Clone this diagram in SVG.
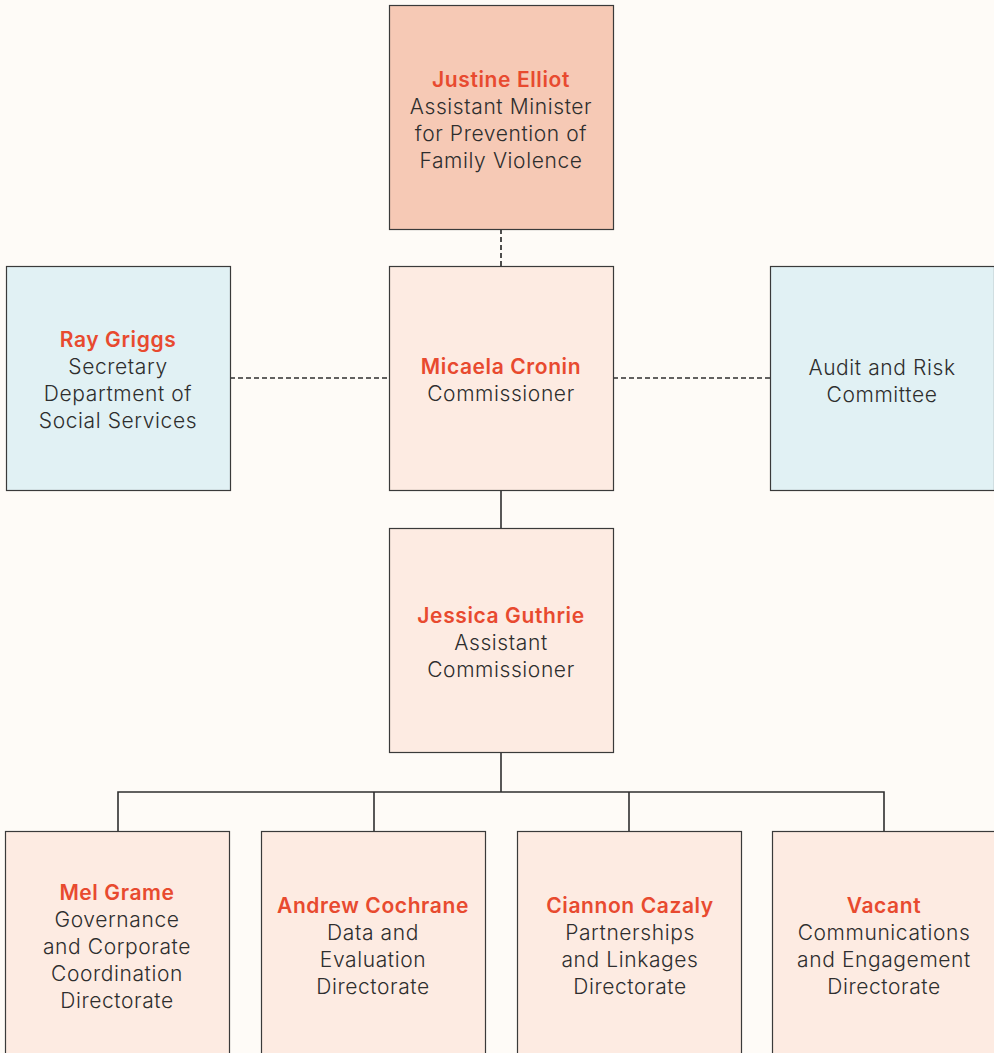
<svg xmlns="http://www.w3.org/2000/svg" width="994" height="1053" viewBox="0 0 994 1053">
<style>
.bg{fill:#FEFBF7}
.box{stroke:#3a3a3a;stroke-width:1.2}
.top{fill:#F6C9B5}
.peach{fill:#FDEBE2}
.blue{fill:#E1F1F4}
text{font-family:Inter,"Liberation Sans",sans-serif;font-size:21px;font-weight:300;text-anchor:middle;fill:#2e2e2e;letter-spacing:0.6px}
.name{font-weight:600;fill:#E84A2F}
.solid{stroke:#2f2f2f;stroke-width:1.6;fill:none}
.dash{stroke:#2f2f2f;stroke-width:1.7;stroke-dasharray:5 3;fill:none}
</style>
<rect class="bg" x="0" y="0" width="994" height="1053"/>
<g id="connectors">
<line class="dash" x1="501" y1="229" x2="501" y2="266"/>
<line class="dash" x1="230" y1="378" x2="389" y2="378"/>
<line class="dash" x1="613" y1="378" x2="770" y2="378"/>
<line class="solid" x1="501" y1="490" x2="501" y2="528"/>
<polyline class="solid" points="501,752 501,792"/>
<polyline class="solid" points="118,831 118,792 884,792 884,831"/>
<line class="solid" x1="374" y1="792" x2="374" y2="831"/>
<line class="solid" x1="629" y1="792" x2="629" y2="831"/>
</g>
<g id="minister">
<rect class="box top" x="389.5" y="5.5" width="224" height="224"/>
<text x="501" y="87"><tspan class="name">Justine Elliot</tspan><tspan x="501" dy="27">Assistant Minister</tspan><tspan x="501" dy="27">for Prevention of</tspan><tspan x="501" dy="27">Family Violence</tspan></text>
</g>
<g id="secretary">
<rect class="box blue" x="6.5" y="266.5" width="224" height="224"/>
<text x="118" y="347"><tspan class="name">Ray Griggs</tspan><tspan x="118" dy="27">Secretary</tspan><tspan x="118" dy="27">Department of</tspan><tspan x="118" dy="27">Social Services</tspan></text>
</g>
<g id="commissioner">
<rect class="box peach" x="389.5" y="266.5" width="224" height="224"/>
<text x="501" y="374"><tspan class="name">Micaela Cronin</tspan><tspan x="501" dy="27">Commissioner</tspan></text>
</g>
<g id="audit">
<rect class="box blue" x="770.5" y="266.5" width="224" height="224"/>
<text x="882" y="375"><tspan>Audit and Risk</tspan><tspan x="882" dy="27">Committee</tspan></text>
</g>
<g id="assistant-commissioner">
<rect class="box peach" x="389.5" y="528.5" width="224" height="224"/>
<text x="501" y="623"><tspan class="name">Jessica Guthrie</tspan><tspan x="501" dy="27">Assistant</tspan><tspan x="501" dy="27">Commissioner</tspan></text>
</g>
<g id="governance">
<rect class="box peach" x="5.5" y="831.5" width="224" height="240"/>
<text x="117" y="900"><tspan class="name">Mel Grame</tspan><tspan x="117" dy="27">Governance</tspan><tspan x="117" dy="27">and Corporate</tspan><tspan x="117" dy="27">Coordination</tspan><tspan x="117" dy="27">Directorate</tspan></text>
</g>
<g id="data">
<rect class="box peach" x="261.5" y="831.5" width="224" height="240"/>
<text x="373" y="913"><tspan class="name">Andrew Cochrane</tspan><tspan x="373" dy="27">Data and</tspan><tspan x="373" dy="27">Evaluation</tspan><tspan x="373" dy="27">Directorate</tspan></text>
</g>
<g id="partnerships">
<rect class="box peach" x="517.5" y="831.5" width="224" height="240"/>
<text x="630" y="913"><tspan class="name">Ciannon Cazaly</tspan><tspan x="630" dy="27">Partnerships</tspan><tspan x="630" dy="27">and Linkages</tspan><tspan x="630" dy="27">Directorate</tspan></text>
</g>
<g id="communications">
<rect class="box peach" x="772.5" y="831.5" width="224" height="240"/>
<text x="884" y="913"><tspan class="name">Vacant</tspan><tspan x="884" dy="27">Communications</tspan><tspan x="884" dy="27">and Engagement</tspan><tspan x="884" dy="27">Directorate</tspan></text>
</g>
</svg>
